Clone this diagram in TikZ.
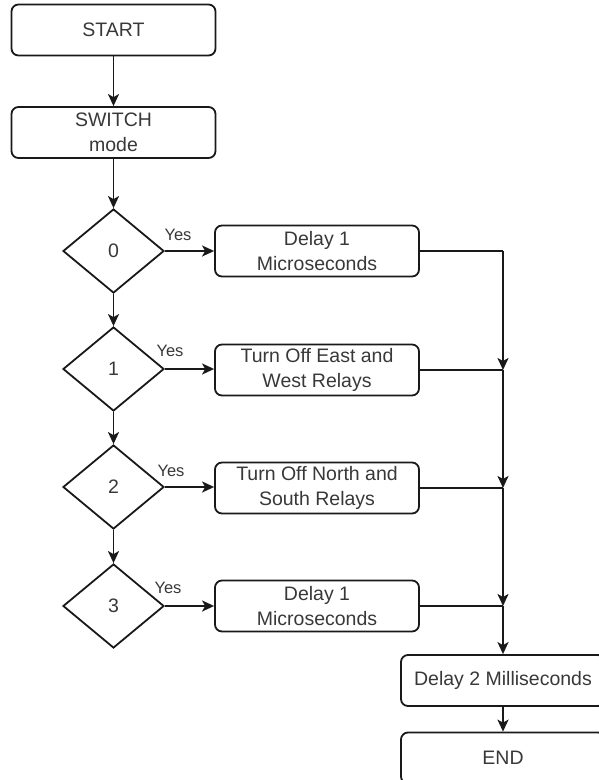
\documentclass[tikz,border=0pt]{standalone}
\usepackage{fontspec}
\setmainfont{Liberation Sans}
\usetikzlibrary{shapes.geometric,arrows.meta}
\begin{document}
\begin{tikzpicture}[x=1pt,y=-1pt,
  txt/.style={text=black!78,font=\fontsize{19.5}{24.5}\selectfont},
  procbox/.style={txt,draw=black!90,line width=1.8pt,rounded corners=7pt,minimum width=204pt,minimum height=51pt,align=center,inner sep=0pt},
  decision/.style={txt,draw=black!90,line width=1.8pt,diamond,minimum width=101pt,minimum height=84pt,inner sep=0pt},
  yeslbl/.style={text=black!78,font=\fontsize{16.5}{18}\selectfont,inner sep=0pt},
  flow/.style={line width=1.8pt,draw=black!90,-{Stealth[length=12pt,width=11pt,inset=3pt]}},
  plain/.style={line width=1.8pt,draw=black!90}]
\useasboundingbox (0,0) rectangle (598,780);
\node[procbox] (start) at (113.5,30) {START};
\node[procbox] (switch) at (113.5,132.5) {SWITCH\\mode};
\node[decision] (d0) at (113.5,251) {0};
\node[decision] (d1) at (113.5,369) {1};
\node[decision] (d2) at (113.5,487) {2};
\node[decision] (d3) at (113.5,606) {3};
\node[procbox] (b0) at (317,251) {Delay 1\\Microseconds};
\node[procbox] (b1) at (317,370) {Turn Off East and\\West Relays};
\node[procbox] (b2) at (317,488) {Turn Off North and\\South Relays};
\node[procbox] (b3) at (317,606) {Delay 1\\Microseconds};
\node[procbox] (del2) at (503,680.5) {Delay 2 Milliseconds};
\node[procbox] (endn) at (503,758) {END};
\node[yeslbl] (y0) at (178,235) {Yes};
\node[yeslbl] (y1) at (170,351) {Yes};
\node[yeslbl] (y2) at (171,471) {Yes};
\node[yeslbl] (y3) at (168,588) {Yes};
\coordinate (j0) at (503,251);
\coordinate (j1) at (503,370);
\coordinate (j2) at (503,488);
\coordinate (j3) at (503,606);
\draw[flow] (start) -- (switch);
\draw[flow] (switch) -- (d0);
\draw[flow] (d0) -- (d1);
\draw[flow] (d1) -- (d2);
\draw[flow] (d2) -- (d3);
\draw[flow] (d0.east) -- (b0);
\draw[flow] (d1.east) -- (b1.west |- d1.east);
\draw[flow] (d2.east) -- (b2.west |- d2.east);
\draw[flow] (d3.east) -- (b3);
\draw[plain] (b0.east) -- (j0);
\draw[plain] (b1.east) -- (j1);
\draw[plain] (b2.east) -- (j2);
\draw[plain] (b3.east) -- (j3);
\draw[flow] (j0) -- (j1);
\draw[flow] (j1) -- (j2);
\draw[flow] (j2) -- (j3);
\draw[flow] (j3) -- (del2);
\draw[flow] (del2) -- (endn);
\end{tikzpicture}
\end{document}
